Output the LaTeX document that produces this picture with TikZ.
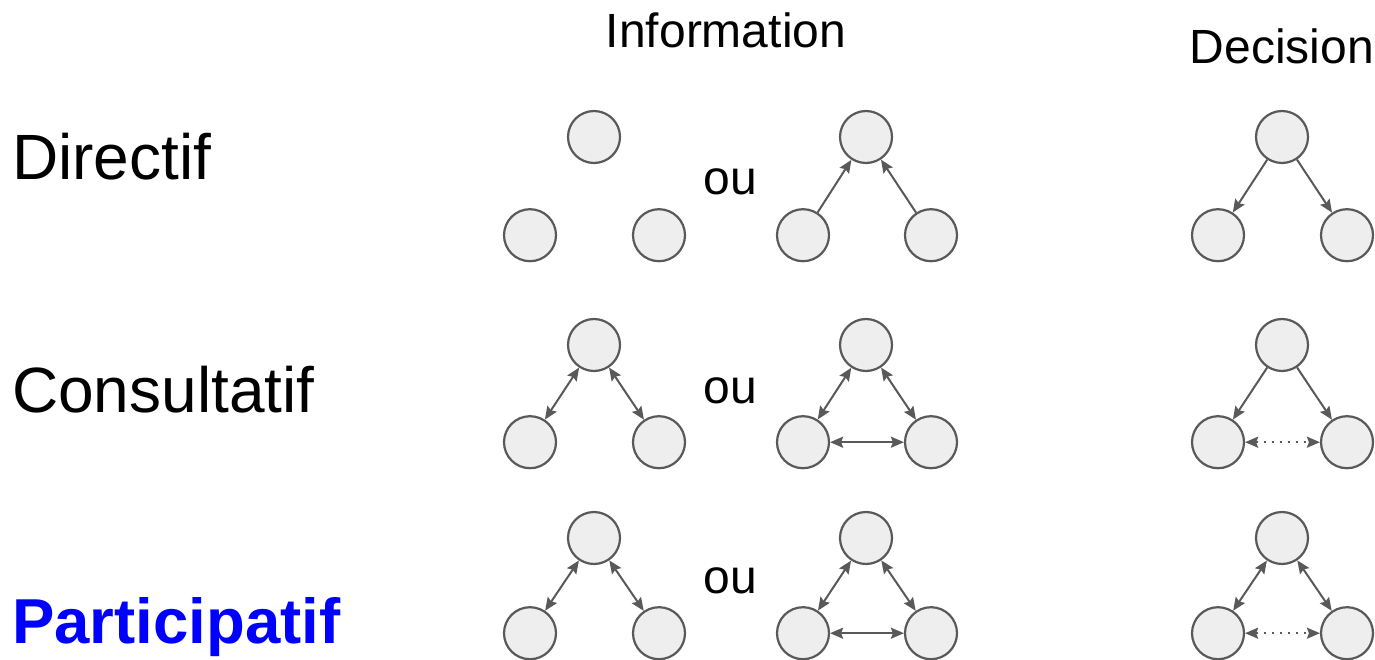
\documentclass[tikz,border=0pt]{standalone}
\usepackage{fontspec}
\setmainfont{Liberation Sans}
\usepackage{xcolor}
\usetikzlibrary{positioning,arrows.meta}
\definecolor{node-gray}{HTML}{EEEEEE}
\definecolor{edge-gray}{HTML}{595959}

\begin{document}
\begin{tikzpicture}
[
x=1pt, y=1pt,
cell-a/.style={circle, draw=edge-gray, fill=node-gray, line width=2.2pt, minimum size=52pt, inner sep=0pt},
link-a/.style={draw=edge-gray, line width=2pt, -{Stealth[length=13pt,width=11pt,inset=2pt]}},
link-b/.style={link-a, {Stealth[length=13pt,width=11pt,inset=2pt]}-{Stealth[length=13pt,width=11pt,inset=2pt]}},
link-c/.style={link-b, dash pattern=on 2pt off 6pt},
text-a/.style={black, font=\fontsize{48}{57}\selectfont, inner sep=0pt, anchor=base},
text-b/.style={black, font=\fontsize{64}{77}\selectfont, inner sep=0pt, anchor=base west}
]
\useasboundingbox (0,0) rectangle (1375,-660);

% headings
\node (info)  [text-a] at (726,-48)  {Information};
\node (decis) [text-a] at (1282,-64) {Decision};
\node (dir)   [text-b] at (12,-180)  {Directif};
\node (cons)  [text-b] at (12,-412)  {Consultatif};
\node (part)  [text-b, font=\fontsize{63.5}{76}\selectfont\bfseries, blue] at (12,-643) {Participatif};
\node (ou-1)  [text-a] at (730,-195) {ou};
\node (ou-2)  [text-a] at (730,-403) {ou};
\node (ou-3)  [text-a] at (730,-593) {ou};

% row 1 : directif
\node (d-a-t) [cell-a] at (594,-137) {};
\node (d-a-l) [cell-a, below = 44pt of d-a-t, xshift=-64pt] {};
\node (d-a-r) [cell-a, below = 44pt of d-a-t, xshift= 65pt] {};
\node (d-b-t) [cell-a] at (866,-137) {};
\node (d-b-l) [cell-a, below = 44pt of d-b-t, xshift=-63pt] {};
\node (d-b-r) [cell-a, below = 44pt of d-b-t, xshift= 65pt] {};
\node (d-c-t) [cell-a] at (1282,-137) {};
\node (d-c-l) [cell-a, below = 44pt of d-c-t, xshift=-64pt] {};
\node (d-c-r) [cell-a, below = 44pt of d-c-t, xshift= 65pt] {};
\draw [link-a] (d-b-l) -- (d-b-t);
\draw [link-a] (d-b-r) -- (d-b-t);
\draw [link-a] (d-c-t) -- (d-c-l);
\draw [link-a] (d-c-t) -- (d-c-r);

% row 2 : consultatif
\node (c-a-t) [cell-a] at (594,-345) {};
\node (c-a-l) [cell-a, below = 43pt of c-a-t, xshift=-64pt] {};
\node (c-a-r) [cell-a, below = 43pt of c-a-t, xshift= 65pt] {};
\node (c-b-t) [cell-a] at (866,-345) {};
\node (c-b-l) [cell-a, below = 43pt of c-b-t, xshift=-63pt] {};
\node (c-b-r) [cell-a, below = 43pt of c-b-t, xshift= 65pt] {};
\node (c-c-t) [cell-a] at (1282,-345) {};
\node (c-c-l) [cell-a, below = 43pt of c-c-t, xshift=-64pt] {};
\node (c-c-r) [cell-a, below = 43pt of c-c-t, xshift= 65pt] {};
\draw [link-b] (c-a-t) -- (c-a-l);
\draw [link-b] (c-a-t) -- (c-a-r);
\draw [link-b] (c-b-t) -- (c-b-l);
\draw [link-b] (c-b-t) -- (c-b-r);
\draw [link-b] (c-b-l) -- (c-b-r);
\draw [link-a] (c-c-t) -- (c-c-l);
\draw [link-a] (c-c-t) -- (c-c-r);
\draw [link-c] (c-c-l) -- (c-c-r);

% row 3 : participatif
\node (p-a-t) [cell-a] at (594,-538) {};
\node (p-a-l) [cell-a, below = 41pt of p-a-t, xshift=-64pt] {};
\node (p-a-r) [cell-a, below = 41pt of p-a-t, xshift= 65pt] {};
\node (p-b-t) [cell-a] at (866,-538) {};
\node (p-b-l) [cell-a, below = 41pt of p-b-t, xshift=-63pt] {};
\node (p-b-r) [cell-a, below = 41pt of p-b-t, xshift= 65pt] {};
\node (p-c-t) [cell-a] at (1282,-538) {};
\node (p-c-l) [cell-a, below = 41pt of p-c-t, xshift=-64pt] {};
\node (p-c-r) [cell-a, below = 41pt of p-c-t, xshift= 65pt] {};
\draw [link-b] (p-a-t) -- (p-a-l);
\draw [link-b] (p-a-t) -- (p-a-r);
\draw [link-b] (p-b-t) -- (p-b-l);
\draw [link-b] (p-b-t) -- (p-b-r);
\draw [link-b] (p-b-l) -- (p-b-r);
\draw [link-b] (p-c-t) -- (p-c-l);
\draw [link-b] (p-c-t) -- (p-c-r);
\draw [link-c] (p-c-l) -- (p-c-r);
\end{tikzpicture}
\end{document}
